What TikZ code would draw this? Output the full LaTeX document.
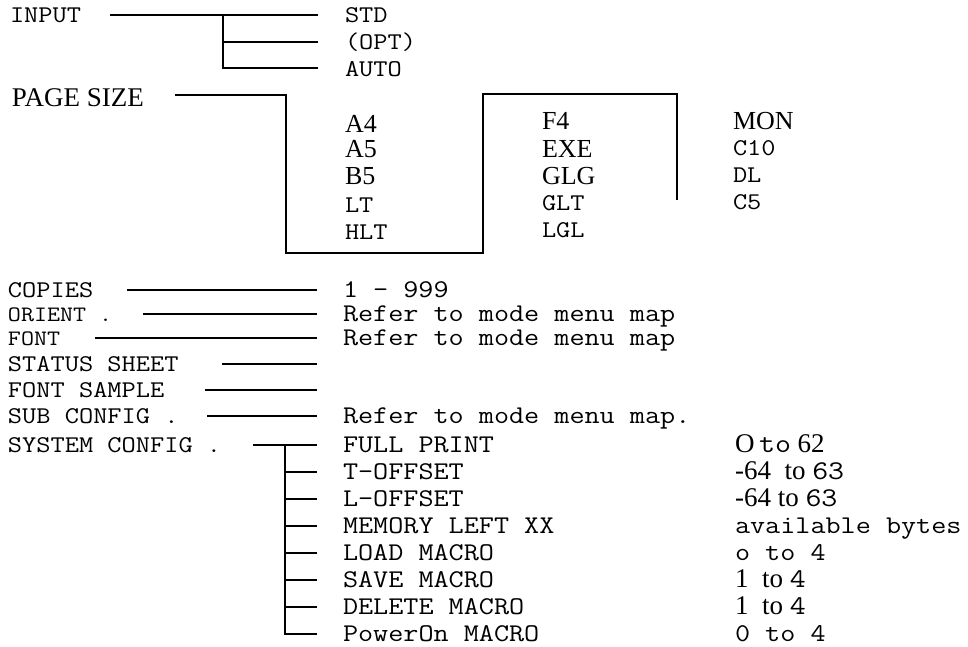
\documentclass[tikz,border=0pt]{standalone}
\usepackage{fontspec}
\setmainfont{Liberation Serif}
\setmonofont{Latin Modern Mono}[FakeStretch=1.15]
\begin{document}
\begin{tikzpicture}[x=1pt,y=-1pt,
  txt/.style={anchor=base west,inner sep=0pt,outer sep=0pt},
  mono/.style={txt,font=\fontsize{24}{24}\selectfont\ttfamily},
  monos/.style={txt,font=\fontsize{22}{22}\selectfont\ttfamily},
  monob/.style={txt,font=\fontsize{25.5}{25.5}\selectfont\ttfamily},
  serif/.style={txt,font=\fontsize{26}{26}\selectfont\rmfamily},
  ln/.style={line width=1.3pt}]
\useasboundingbox (0,0) rectangle (968,646);
% ---------------- INPUT
\node[mono] (input) at (10,22) {INPUT};
\node[mono] (std) at (345,22) {STD};
\node[mono] (opt) at (345,49) {(OPT)};
\node[mono] (auto) at (345,76) {AUTO};
\coordinate (inA) at (110,15);
\coordinate (inJ) at (223,15);
\coordinate (inStd) at (318,15);
\coordinate (inJ2) at (223,42);
\coordinate (inOpt) at (318,42);
\coordinate (inJ3) at (223,68);
\coordinate (inAuto) at (318,68);
\draw[ln] (inA) -- (inStd);
\draw[ln] (inJ) -- (inJ3) -- (inAuto);
\draw[ln] (inJ2) -- (inOpt);
% ---------------- PAGE SIZE
\node[serif,font=\fontsize{27}{27}\selectfont] (page) at (12,106) {PAGE SIZE};
\coordinate (pgA) at (175,95);
\coordinate (pgB) at (286,95);
\coordinate (pgC) at (286,253);
\coordinate (pgD) at (483,253);
\coordinate (pgE) at (483,94);
\coordinate (pgF) at (677,94);
\coordinate (pgG) at (677,200);
\draw[ln] (pgA) -- (pgB) -- (pgC) -- (pgD) -- (pgE) -- (pgF) -- (pgG);
\node[serif] (a4) at (345,132) {A4};
\node[serif] (a5) at (345,157) {A5};
\node[serif] (b5) at (345,184) {B5};
\node[mono] (lt) at (345,212) {LT};
\node[mono] (hlt) at (345,239) {HLT};
\node[serif] (f4) at (542,129) {F4};
\node[serif] (exe) at (542,157) {EXE};
\node[serif] (glg) at (542,184) {GLG};
\node[mono] (glt) at (542,210) {GLT};
\node[mono] (lgl) at (542,237) {LGL};
\node[serif] (mon) at (733,129) {MON};
\node[mono] (c10) at (733,155) {C10};
\node[mono] (dl) at (733,182) {DL};
\node[mono] (c5) at (733,209) {C5};
% ---------------- lower list
\node[mono] (copies) at (8,297) {COPIES};
\node[monos] (orient) at (8,321) {ORIENT .};
\node[monos] (font) at (8,345) {FONT};
\node[mono] (status) at (8,371) {STATUS SHEET};
\node[mono] (sample) at (8,397) {FONT SAMPLE};
\node[mono] (sub) at (8,423) {SUB CONFIG .};
\node[mono] (system) at (8,452) {SYSTEM CONFIG .};
\node[monob] (r999) at (343,297) {1 - 999};
\node[monob] (rOr) at (343,321) {Refer to mode menu map};
\node[monob] (rFo) at (343,345) {Refer to mode menu map};
\node[monob] (rSub) at (343,423) {Refer to mode menu map.};
\node[monob] (full) at (343,452) {FULL PRINT};
\node[monob] (toff) at (343,479) {T-OFFSET};
\node[monob] (loff) at (343,506) {L-OFFSET};
\node[monob] (mem) at (343,533) {MEMORY LEFT XX};
\node[monob] (load) at (343,560) {LOAD MACRO};
\node[monob] (save) at (343,587) {SAVE MACRO};
\node[monob] (del) at (343,614) {DELETE MACRO};
\node[monob] (pwr) at (343,641) {PowerOn MACRO};
\node[serif,font=\fontsize{27}{27}\selectfont] (vFull) at (735,452) {O\,\texttt{to} 62};
\node[serif,font=\fontsize{27}{27}\selectfont] (vT) at (735,479) {-64 \ to \texttt{63}};
\node[serif,font=\fontsize{27}{27}\selectfont] (vL) at (735,506) {-64 to \texttt{63}};
\node[monob] (vMem) at (735,533) {available bytes};
\node[monob] (vLoad) at (735,560) {o to 4};
\node[serif,font=\fontsize{27}{27}\selectfont] (vSave) at (735,587) {1 \ to \texttt{4}};
\node[serif,font=\fontsize{27}{27}\selectfont] (vDel) at (735,614) {1 \ to \texttt{4}};
\node[monob] (vPwr) at (735,641) {0 to 4};
% connectors
\coordinate (cpA) at (127,290); \coordinate (cpB) at (317,290);
\coordinate (orA) at (143,314); \coordinate (orB) at (317,314);
\coordinate (foA) at (95,338);  \coordinate (foB) at (317,338);
\coordinate (stA) at (222,364); \coordinate (stB) at (317,364);
\coordinate (saA) at (205,390); \coordinate (saB) at (317,390);
\coordinate (suA) at (207,416); \coordinate (suB) at (317,416);
\draw[ln] (cpA) -- (cpB);
\draw[ln] (orA) -- (orB);
\draw[ln] (foA) -- (foB);
\draw[ln] (stA) -- (stB);
\draw[ln] (saA) -- (saB);
\draw[ln] (suA) -- (suB);
\coordinate (syA) at (253,445); \coordinate (syJ) at (285,445); \coordinate (syB) at (317,445);
\draw[ln] (syA) -- (syB);
\coordinate (sjEnd) at (285,634);
\draw[ln] (syJ) -- (sjEnd) -- (317,634);
\foreach \yy in {472,499,526,553,580,607}{
  \draw[ln] (285,\yy) -- (317,\yy);
}
\end{tikzpicture}
\end{document}
